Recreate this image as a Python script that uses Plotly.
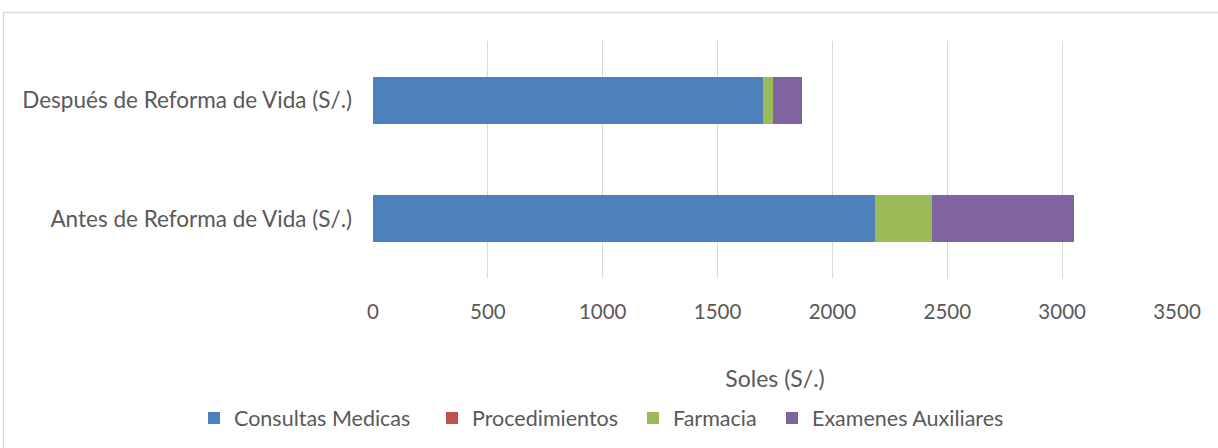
import plotly.graph_objects as go

# Cost per category, before and after the lifestyle reform
categories = ["Después de Reforma de Vida (S/.)", "Antes de Reforma de Vida (S/.)"]
series_names = ["Consultas Medicas", "Procedimientos", "Farmacia", "Examenes Auxiliares"]
consultas = [1698, 2185]
procedimientos = [0, 0]
farmacia = [45, 247]
examenes = [124, 620]
x_ticks = [0, 500, 1000, 1500, 2000, 2500, 3000, 3500]

colors = ["#4F81BD", "#C0504D", "#9BBB59", "#8064A2"]
values = [consultas, procedimientos, farmacia, examenes]

FONT = "Lato"
TXT = "#595959"

W, H = 1218, 448
L, R, T, B = 373, 41, 41, 170

def px_x(px):
    return (px - L) / (W - L - R)

def px_y(py):
    return (H - B - py) / (H - T - B)

# each legend entry gets its own legend box so the spacing between entries can be set
legend_ids = ["legend", "legend2", "legend3", "legend4"]
legend_text_left = [238, 476, 677, 816]

fig = go.Figure()
for name, vals, col, lid in zip(series_names, values, colors, legend_ids):
    fig.add_trace(go.Bar(
        y=categories, x=vals, name=name, orientation="h",
        marker=dict(color=col, line=dict(width=0)),
        legend=lid,
    ))

legends = {}
for lid, tx in zip(legend_ids, legend_text_left):
    legends[lid] = dict(
        orientation="h", x=px_x(tx - 44), xanchor="left", y=px_y(418), yanchor="middle",
        font=dict(family=FONT, size=21.5, color=TXT),
        bgcolor="rgba(0,0,0,0)", itemwidth=30,
    )

fig.update_layout(
    width=W, height=H,
    margin=dict(l=L, r=R, t=T, b=B, autoexpand=False),
    barmode="stack",
    bargap=0.6,
    paper_bgcolor="white",
    plot_bgcolor="white",
    font=dict(family=FONT, color=TXT, size=21),
    showlegend=True,
    xaxis=dict(
        range=[0, 3500], tickvals=x_ticks, ticktext=[str(v) for v in x_ticks],
        showgrid=True, gridcolor="#d9d9d9", gridwidth=1,
        zeroline=False, showline=False, ticks="",
        tickfont=dict(family=FONT, size=20.5, color=TXT),
        ticklabelstandoff=19,
        title=dict(text="Soles (S/.)", font=dict(family=FONT, size=23, color=TXT), standoff=49),
    ),
    yaxis=dict(
        autorange="reversed",
        showgrid=False, zeroline=False, showline=False, ticks="",
        tickfont=dict(family=FONT, size=22.5, color=TXT),
        ticklabelstandoff=20,
    ),
    shapes=[
        dict(type="rect", xref="paper", yref="paper",
             x0=px_x(3.5), x1=px_x(1240), y0=px_y(470), y1=px_y(12.5),
             line=dict(color="#d9d9d9", width=1.3), fillcolor="rgba(0,0,0,0)", layer="below"),
    ],
    **legends,
)

fig.write_html("out.html")
